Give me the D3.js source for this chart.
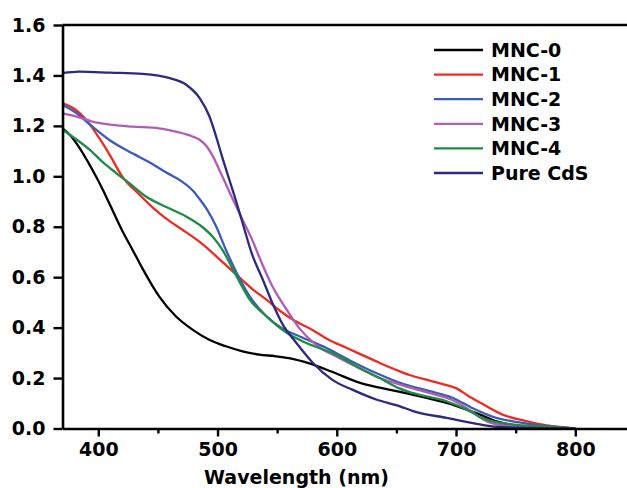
<!DOCTYPE html>
<html>
<head>
<meta charset="utf-8">
<script src="https://cdn.jsdelivr.net/npm/d3@7"></script>
<style>
  html, body { margin: 0; padding: 0; background: #fff; }
  svg { display: block; }
  text { font-family: "DejaVu Sans", sans-serif; font-weight: bold; fill: #000; }
</style>
</head>
<body>
<svg id="chart" width="627" height="488"></svg>
<script>
// ---- data ----
const seriesNames = ["MNC-0", "MNC-1", "MNC-2", "MNC-3", "MNC-4", "Pure CdS"];
const seriesColors = ["#000000", "#ee2a24", "#3d5bb8", "#b15db6", "#1e8c45", "#2c2a7e"];

const mnc0X = [370,376,384,391,398,404,410,420,428,437,451,465,479,493,507,521,535,548,560,577,596,619,636,653,678,700,720,734,753,775,800];
const mnc0Y = [1.19,1.165,1.115,1.06,1.0,0.945,0.885,0.785,0.715,0.635,0.524,0.445,0.392,0.352,0.326,0.306,0.293,0.287,0.279,0.258,0.225,0.182,0.162,0.145,0.118,0.09,0.055,0.028,0.01,0.003,0];

const mnc1X = [370,382,393,401,409,420,435,446,457,470,485,502,518,530,541,552,563,580,592,608,622,636,650,661,678,692,700,710,720,739,759,776,792,800];
const mnc1Y = [1.29,1.26,1.205,1.15,1.09,1.0,0.925,0.875,0.832,0.79,0.74,0.67,0.60,0.55,0.511,0.468,0.432,0.39,0.355,0.32,0.29,0.26,0.232,0.212,0.19,0.172,0.16,0.13,0.103,0.055,0.029,0.012,0.004,0];

const mnc2X = [370,382,393,409,429,445,457,470,479,485,491,499,507,516,527,541,555,569,591,611,633,653,678,697,714,731,753,776,800];
const mnc2Y = [1.283,1.25,1.205,1.145,1.09,1.05,1.015,0.98,0.945,0.91,0.87,0.80,0.709,0.618,0.524,0.445,0.395,0.365,0.32,0.27,0.22,0.181,0.148,0.122,0.08,0.046,0.024,0.009,0];

const mnc3X = [370,382,395,412,429,451,465,479,485,491,496,504,513,521,529,535,546,558,569,583,602,625,636,653,678,697,711,720,728,747,776,800];
const mnc3Y = [1.25,1.237,1.217,1.204,1.197,1.19,1.177,1.158,1.145,1.118,1.08,1.0,0.907,0.828,0.749,0.68,0.564,0.471,0.395,0.33,0.28,0.225,0.2,0.174,0.14,0.113,0.075,0.044,0.024,0.009,0.004,0];

const mnc4X = [370,382,393,404,415,426,440,457,474,487,496,504,516,527,541,558,574,596,625,636,653,664,692,709,725,747,776,800];
const mnc4Y = [1.185,1.145,1.105,1.055,1.013,0.973,0.92,0.878,0.84,0.80,0.76,0.709,0.603,0.511,0.445,0.38,0.34,0.30,0.225,0.2,0.158,0.14,0.108,0.075,0.036,0.016,0.007,0];

const cdsX = [370,384,410,437,460,474,485,493,499,504,510,516,521,529,538,546,555,566,580,596,613,633,653,664,692,720,734,760,800];
const cdsY = [1.409,1.415,1.411,1.406,1.389,1.362,1.31,1.24,1.155,1.075,0.985,0.895,0.815,0.69,0.59,0.498,0.41,0.34,0.26,0.194,0.154,0.115,0.088,0.069,0.042,0.016,0.007,0.002,0];

const xTicksMajor = [400, 500, 600, 700, 800];
const xTicksMinor = [450, 550, 650, 750, 850];
const yTicks = [0.0, 0.2, 0.4, 0.6, 0.8, 1.0, 1.2, 1.4, 1.6];
const xTitle = "Wavelength (nm)";

// ---- layout ----
const svg = d3.select("#chart");
const mLeft = 62.5, mTop = 25, mBottom = 428.5;
const x = d3.scaleLinear().domain([370, 850]).range([mLeft, mLeft + 480 * 1.1925]);
const y = d3.scaleLinear().domain([0, 1.6]).range([mBottom, mTop]);

const seriesX = [mnc0X, mnc1X, mnc2X, mnc3X, mnc4X, cdsX];
const seriesY = [mnc0Y, mnc1Y, mnc2Y, mnc3Y, mnc4Y, cdsY];

const line = d3.line().x(d => x(d[0])).y(d => y(d[1])).curve(d3.curveMonotoneX);

const plot = svg.append("g");
seriesNames.forEach((name, i) => {
  const pts = seriesX[i].map((v, j) => [v, seriesY[i][j]]);
  plot.append("path")
    .datum(pts)
    .attr("d", line)
    .attr("fill", "none")
    .attr("stroke", seriesColors[i])
    .attr("stroke-width", 2.3)
    .attr("stroke-linejoin", "round");
});

// ---- axes ----
const xAxis = svg.append("g").attr("transform", `translate(0,${mBottom})`)
  .call(d3.axisBottom(x).tickValues(xTicksMajor).tickSize(8).tickPadding(6).tickSizeOuter(0).tickFormat(d3.format("d")));
const xMinor = svg.append("g").attr("transform", `translate(0,${mBottom})`)
  .call(d3.axisBottom(x).tickValues(xTicksMinor).tickSize(5).tickSizeOuter(0).tickFormat(""));
xMinor.select(".domain").remove();

const yAxis = svg.append("g").attr("transform", `translate(${mLeft},0)`)
  .call(d3.axisLeft(y).tickValues(yTicks).tickSize(9).tickPadding(8).tickSizeOuter(0).tickFormat(d3.format(".1f")));

svg.selectAll(".domain").attr("stroke", "#000").attr("stroke-width", 2.6);
svg.selectAll(".tick line").attr("stroke", "#000").attr("stroke-width", 2.4);
svg.selectAll(".tick text").style("font-size", "19px").style("font-family", "'DejaVu Sans', sans-serif").style("font-weight", "bold").attr("fill", "#000");

// top frame line
svg.append("line")
  .attr("x1", mLeft).attr("x2", 640).attr("y1", mTop).attr("y2", mTop)
  .attr("stroke", "#000").attr("stroke-width", 2.6);

// x title
svg.append("text")
  .attr("x", 296.5).attr("y", 484)
  .attr("text-anchor", "middle")
  .style("font-size", "19px")
  .text(xTitle);

// ---- legend ----
const legend = svg.append("g");
seriesNames.forEach((name, i) => {
  const cy = 50 + i * 24.6;
  legend.append("line")
    .attr("x1", 434).attr("x2", 483).attr("y1", cy).attr("y2", cy)
    .attr("stroke", seriesColors[i]).attr("stroke-width", 2.3);
  legend.append("text")
    .attr("x", 491).attr("y", cy).attr("dy", "0.36em")
    .style("font-size", "19px")
    .text(name);
});
</script>
</body>
</html>
